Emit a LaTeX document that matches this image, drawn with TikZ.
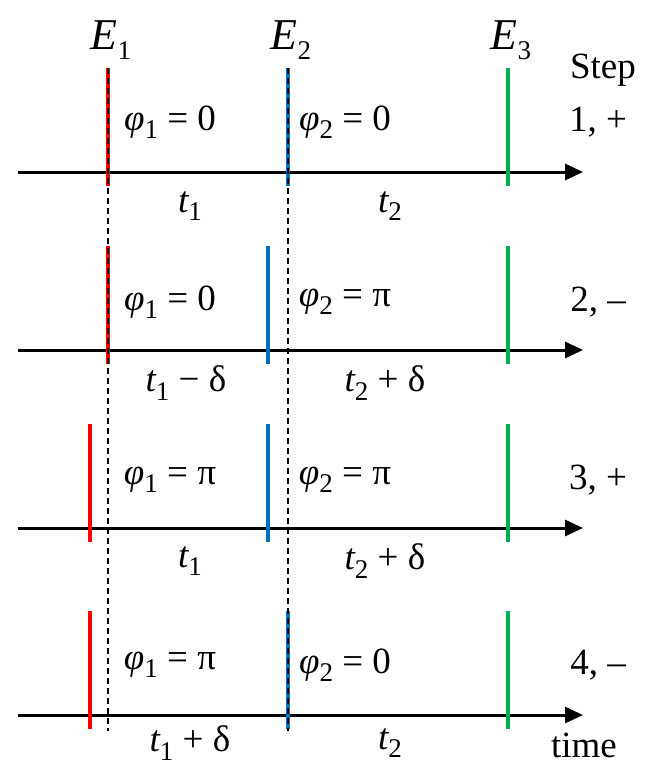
\documentclass[tikz,border=0pt]{standalone}
\usepackage{fontspec}
\setmainfont{Liberation Serif}
\usetikzlibrary{arrows.meta, positioning}
\definecolor{pulseone}{RGB}{255, 0, 0}
\definecolor{pulsetwo}{RGB}{0, 112, 192}
\definecolor{pulsethree}{RGB}{0, 176, 80}
\newcommand{\lo}[1]{\raisebox{-0.5ex}{\upshape\fontsize{13.5}{14}\selectfont #1}}
\tikzset{
  axis/.style   = {draw=black, line width=1.5pt, -{Triangle[length=9pt, width=8pt]}},
  pulse/.style  = {line width=2pt},
  guide/.style  = {draw=black, line width=0.8pt, dash pattern=on 3pt off 2pt},
  lbl/.style    = {font=\fontsize{18.5}{21}\selectfont, inner sep=0pt},
  head/.style   = {font=\fontsize{22}{24}\selectfont, inner sep=0pt},
}

\begin{document}
\begin{tikzpicture}[x=0.5pt, y=-0.5pt]
  \useasboundingbox (0,0) rectangle (649,765);

  %% ---------------- the four time axes ----------------
  \foreach \r/\y in {1/172, 2/350, 3/528, 4/715} {
    \coordinate (ax\r s) at (18,\y);
    \coordinate (ax\r e) at (583,\y);
    \draw[axis] (ax\r s) -- (ax\r e);
  }

  %% ---------------- the pulses E1, E2, E3 ----------------
  \foreach \r/\y/\xa/\xb in {1/172/108/288, 2/350/108/268,
                             3/528/90/268, 4/715/90/288} {
    \coordinate (ea\r t) at (\xa,\y-104);  \coordinate (ea\r b) at (\xa,\y+14);
    \coordinate (eb\r t) at (\xb,\y-104);  \coordinate (eb\r b) at (\xb,\y+14);
    \coordinate (ec\r t) at (508,\y-104);  \coordinate (ec\r b) at (508,\y+14);
    \draw[pulse, pulseone]   (ea\r t) -- (ea\r b);
    \draw[pulse, pulsetwo]   (eb\r t) -- (eb\r b);
    \draw[pulse, pulsethree] (ec\r t) -- (ec\r b);
  }

  %% ---------------- reference positions ----------------
  \coordinate (g1t) at (108,68);  \coordinate (g1b) at (108,731);
  \coordinate (g2t) at (288,68);  \coordinate (g2b) at (288,731);
  \draw[guide] (g1t) -- (g1b);
  \draw[guide] (g2t) -- (g2b);

  %% ---------------- headers ----------------
  \node[head] (e1) at (111,40) {{\itshape E}\lo{1}};
  \node[head] (e2) at (291,40) {{\itshape E}\lo{2}};
  \node[head] (e3) at (511,40) {{\itshape E}\lo{3}};
  \node[lbl] (step) at (603,70) {Step};

  %% ---------------- phases and steps ----------------
  \foreach \r/\y/\pa/\pb/\sg in {1/122/0/0/{1, +}, 2/302/0/π/{2, –},
                                 3/480/π/π/{3, +}, 4/665/π/0/{4, –}} {
    \node[lbl] (pa\r) at (170,\y) {{\itshape φ}\lo{1} = \pa};
    \node[lbl] (pb\r) at (345,\y) {{\itshape φ}\lo{2} = \pb};
    \node[lbl] (st\r) at (598,\y) {\sg};
  }

  %% ---------------- intervals ----------------
  \node[lbl] (ta1) at (190,206) {{\itshape t}\lo{1}};
  \node[lbl] (tb1) at (390,206) {{\itshape t}\lo{2}};
  \node[lbl] (ta2) at (186,383) {{\itshape t}\lo{1} − δ};
  \node[lbl] (tb2) at (385,383) {{\itshape t}\lo{2} + δ};
  \node[lbl] (ta3) at (190,561) {{\itshape t}\lo{1}};
  \node[lbl] (tb3) at (385,561) {{\itshape t}\lo{2} + δ};
  \node[lbl] (ta4) at (190,743) {{\itshape t}\lo{1} + δ};
  \node[lbl] (tb4) at (390,743) {{\itshape t}\lo{2}};
  \node[lbl] (time) at (584,745) {time};

\end{tikzpicture}
\end{document}
